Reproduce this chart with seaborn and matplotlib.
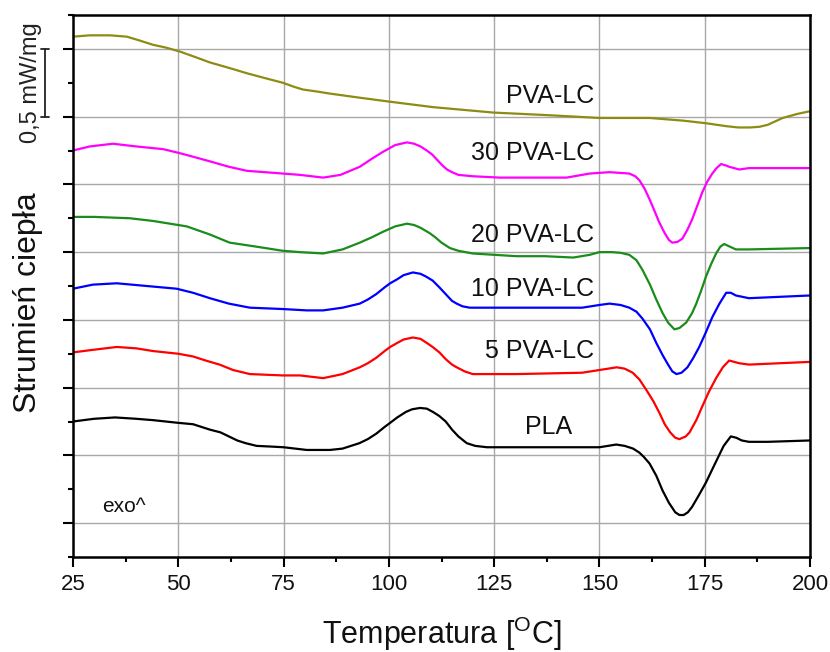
import numpy as np
import pandas as pd
import matplotlib
matplotlib.use("Agg")
import matplotlib.pyplot as plt
import matplotlib.transforms as mtransforms
from matplotlib.ticker import MultipleLocator
import seaborn as sns

# ---------------- data ----------------
pla_T = [25, 30, 35, 40, 44, 50, 53.5, 55.5, 57.5, 60, 62, 64, 66, 68.6, 72, 75, 80.5, 86, 89, 91, 93,
         95, 97, 99, 100.3, 102, 104, 105.5, 107.4, 109, 110.5, 112, 113.5, 115, 116.5, 118.5, 120.5,
         123.3, 134, 150, 152, 154, 156, 158, 159.5, 160.5, 161.9, 163.5, 165, 166.5, 168, 169, 170,
         171, 172, 173.5, 175.3, 177, 178.4, 179.5, 181.2, 182.5, 183.8, 185.5, 190, 200]
pla_v = [1.25, 1.27, 1.28, 1.27, 1.26, 1.24, 1.23, 1.21, 1.19, 1.17, 1.14, 1.11, 1.09, 1.07, 1.065, 1.06, 1.04, 1.04, 1.05, 1.07, 1.09,
         1.12, 1.16, 1.21, 1.24, 1.28, 1.32, 1.34, 1.35, 1.345, 1.32, 1.29, 1.25, 1.19, 1.14, 1.09, 1.07,
         1.06, 1.06, 1.06, 1.07, 1.08, 1.07, 1.05, 1.02, 0.99, 0.94, 0.85, 0.74, 0.65, 0.58, 0.56, 0.56,
         0.58, 0.62, 0.70, 0.80, 0.91, 1.00, 1.07, 1.14, 1.13, 1.11, 1.10, 1.10, 1.11]

p5_T = [25, 30, 35.4, 40, 44, 50, 53.5, 56.5, 59.8, 63, 67, 74.8, 78.9, 84.4, 89, 93.1, 95, 97, 99,
        100.3, 102, 103.5, 105.7, 107.5, 109, 110.4, 112, 113.5, 115, 116.1, 118, 119.9, 130.3, 145.9,
        150, 154.1, 156, 157.9, 159.5, 161.2, 162.8, 164.3, 165.5, 166.8, 168, 169, 170.5, 171.4,
        173, 174.4, 176, 177.7, 179.3, 180.8, 182, 183.2, 185.5, 200]
p5_v = [1.76, 1.78, 1.80, 1.79, 1.77, 1.75, 1.73, 1.70, 1.67, 1.63, 1.60, 1.59, 1.59, 1.57, 1.60, 1.65, 1.68, 1.72, 1.77,
        1.80, 1.83, 1.855, 1.87, 1.86, 1.83, 1.80, 1.76, 1.71, 1.67, 1.65, 1.62, 1.60, 1.60, 1.61,
        1.63, 1.65, 1.64, 1.61, 1.56, 1.48, 1.40, 1.31, 1.23, 1.17, 1.13, 1.12, 1.14, 1.17,
        1.26, 1.36, 1.47, 1.57, 1.65, 1.70, 1.69, 1.68, 1.67, 1.69]

p10_T = [25, 29.7, 35.4, 42.5, 49.6, 53.5, 57.5, 62, 67, 74.8, 80.5, 84.4, 89, 93.1, 95, 97, 99, 100.3,
         102, 103.5, 105.7, 107.5, 108.8, 110.4, 112, 113.5, 115, 116.1, 117.5, 119.2, 130.3, 145.9,
         150, 152.4, 155, 157.1, 158.8, 160.2, 162, 163.5, 165, 166.3, 167.3, 168.3, 169.5, 170.9,
         172.3, 173.7, 175.3, 176.8, 178.5, 180.1, 181.2, 182.4, 185.5, 200]
p10_v = [2.23, 2.26, 2.27, 2.25, 2.23, 2.20, 2.16, 2.12, 2.09, 2.08, 2.07, 2.07, 2.09, 2.12, 2.15, 2.19, 2.24, 2.27,
         2.30, 2.33, 2.35, 2.34, 2.32, 2.29, 2.24, 2.19, 2.14, 2.12, 2.10, 2.09, 2.09, 2.09,
         2.11, 2.12, 2.11, 2.09, 2.06, 2.01, 1.93, 1.83, 1.74, 1.67, 1.62, 1.60, 1.61, 1.65,
         1.72, 1.80, 1.91, 2.02, 2.12, 2.20, 2.20, 2.18, 2.16, 2.18]

p20_T = [25, 30, 38.5, 44, 52, 57.5, 62.2, 68.6, 74.8, 78.9, 84.4, 89, 93.1, 96, 98.6, 101.5, 104.3,
         106, 107.5, 109.7, 111, 112.5, 114.5, 116.5, 119.9, 130.3, 137, 143.8, 147.7, 150, 153, 155,
         157.1, 158.8, 160.2, 162, 163.5, 165, 166.3, 167.8, 169, 170.6, 172, 173, 174.2, 175.3,
         176.5, 177.7, 178.7, 179.6, 181, 182.4, 185.5, 200]
p20_v = [2.76, 2.76, 2.75, 2.73, 2.69, 2.63, 2.57, 2.54, 2.51, 2.50, 2.49, 2.52, 2.57, 2.61, 2.65, 2.69, 2.71,
         2.70, 2.68, 2.64, 2.61, 2.57, 2.53, 2.51, 2.49, 2.47, 2.47, 2.46, 2.48, 2.50, 2.50, 2.495,
         2.48, 2.44, 2.37, 2.26, 2.15, 2.05, 1.98, 1.93, 1.94, 1.98, 2.05, 2.12, 2.22, 2.32,
         2.41, 2.49, 2.54, 2.56, 2.54, 2.52, 2.52, 2.53]

p30_T = [25, 29, 34.5, 40, 46.4, 50.4, 54, 57.5, 62, 66.3, 74.8, 78.9, 84.4, 88.5, 93.1, 96, 98.6,
         101.5, 104.3, 106, 107.5, 109, 110.3, 111.5, 112.7, 113.8, 115, 116.5, 119.9, 126.3, 134.2,
         142.2, 147.7, 152.4, 157.1, 158.5, 159.5, 160.7, 161.9, 163, 164.2, 165.5, 166.5, 167.3,
         168.5, 169.7, 170.8, 172, 173.2, 174.4, 175.6, 176.8, 177.8, 178.9, 180, 180.8, 183.2,
         185.5, 200]
p30_v = [3.25, 3.28, 3.30, 3.28, 3.26, 3.23, 3.20, 3.17, 3.13, 3.10, 3.08, 3.07, 3.05, 3.07, 3.13, 3.19, 3.24,
         3.29, 3.31, 3.30, 3.28, 3.25, 3.22, 3.18, 3.14, 3.11, 3.09, 3.07, 3.06, 3.05, 3.05,
         3.05, 3.08, 3.09, 3.08, 3.06, 3.03, 2.97, 2.89, 2.81, 2.72, 2.64, 2.59, 2.57,
         2.575, 2.60, 2.66, 2.74, 2.84, 2.94, 3.02, 3.08, 3.12, 3.15, 3.14, 3.13, 3.11,
         3.12, 3.12]

pva_T = [25, 29, 33.8, 37.8, 41, 44, 47, 50.4, 54, 57.5, 62, 66.3, 70.5, 74.8, 77.5, 79.6, 83, 86, 93,
         100.3, 110.5, 124.8, 138.3, 150, 162, 170, 175.6, 180, 183, 185.8, 188, 190, 193.5, 197, 200]
pva_v = [4.09, 4.10, 4.10, 4.09, 4.06, 4.03, 4.01, 3.98, 3.94, 3.90, 3.86, 3.82, 3.785, 3.75, 3.72, 3.70, 3.685, 3.67, 3.64,
         3.61, 3.57, 3.53, 3.51, 3.49, 3.49, 3.47, 3.45, 3.43, 3.42, 3.42, 3.425, 3.44, 3.49, 3.52, 3.54]

series_names = ["PLA", "5 PVA-LC", "10 PVA-LC", "20 PVA-LC", "30 PVA-LC", "PVA-LC"]
series_T = [pla_T, p5_T, p10_T, p20_T, p30_T, pva_T]
series_v = [pla_v, p5_v, p10_v, p20_v, p30_v, pva_v]
series_colors = ["#000000", "#ff0000", "#0000ff", "#1a8c1a", "#ff00ff", "#8c8c14"]

# label positions (temperature of right edge, heat-flow level)
label_T = [143.6, 148.8, 148.8, 148.8, 148.8, 148.8]
label_v = [1.21, 1.77, 2.23, 2.63, 3.23, 3.65]

xticks = [25, 50, 75, 100, 125, 150, 175, 200]

# ---------------- plotting ----------------
sns.set_theme(style="white")
plt.rcParams["font.family"] = ["Liberation Sans", "DejaVu Sans"]
plt.rcParams["mathtext.fontset"] = "custom"
plt.rcParams["mathtext.rm"] = "Liberation Sans"
plt.rcParams["text.color"] = "#111111"
plt.rcParams["axes.labelcolor"] = "#111111"
plt.rcParams["xtick.color"] = "black"
plt.rcParams["ytick.color"] = "black"

frames = []
for name, T, v in zip(series_names, series_T, series_v):
    frames.append(pd.DataFrame({"T": T, "v": v, "sample": name}))
df = pd.concat(frames, ignore_index=True)

fig = plt.figure(figsize=(8.3, 6.52), dpi=100)
ax = fig.add_axes([73 / 830, 95 / 652, 737 / 830, 542 / 652])

sns.lineplot(data=df, x="T", y="v", hue="sample", palette=dict(zip(series_names, series_colors)),
             estimator=None, sort=False, linewidth=1.6, legend=False, ax=ax)
for ln in ax.get_lines():
    ln.set_solid_joinstyle("round")

ax.set_xlim(25, 200)
ax.set_ylim(0.25, 4.25)
ax.xaxis.set_major_locator(MultipleLocator(25))
ax.xaxis.set_minor_locator(MultipleLocator(12.5))
ax.yaxis.set_major_locator(MultipleLocator(0.5))
ax.yaxis.set_minor_locator(MultipleLocator(0.25))
ax.set_xticks(xticks)
ax.set_xticklabels([str(t) for t in xticks])
ax.set_yticklabels([])
ax.grid(True, which="major", color="#a8a8a8", linewidth=1.0)
ax.set_axisbelow(True)
for s in ax.spines.values():
    s.set_visible(True)
    s.set_color("black")
    s.set_linewidth(1.8)
ax.tick_params(axis="both", which="major", direction="out", length=7.5, width=1.5,
               color="black", labelcolor="#111111", labelsize=16, pad=5, left=True, bottom=True)
ax.tick_params(axis="both", which="minor", direction="out", length=3.8, width=1.5,
               color="black", left=True, bottom=True)

ax.set_xlabel(r"Temperatura [$^{\mathregular{O}}$C]", fontsize=22, labelpad=14)
ax.set_ylabel("")
fig.text(28 / 830, 1 - 303 / 652, "Strumień ciepła", rotation=90, fontsize=23,
         ha="center", va="center")

for name, tx, ty in zip(series_names, label_T, label_v):
    ax.text(tx, ty, name, fontsize=18, ha="right", va="center")

ax.text(31.9, 0.58, "exo^", fontsize=15, ha="left", va="baseline")

# scale bar 0,5 mW/mg
trans = mtransforms.blended_transform_factory(ax.transAxes, ax.transData)
bx = (45 - 73) / 737
cw = 4 / 737
ax.plot([bx, bx], [3.5, 4.0], color="#222222", lw=1.3, transform=trans, clip_on=False)
ax.plot([bx - cw, bx + cw], [4.0, 4.0], color="#222222", lw=1.3, transform=trans, clip_on=False)
ax.plot([bx - cw, bx + cw], [3.5, 3.5], color="#222222", lw=1.3, transform=trans, clip_on=False)
ax.text((31 - 73) / 737, 3.75, "0,5 mW/mg", rotation=90, fontsize=17, ha="center", va="center",
        transform=trans, color="#222222")

fig.savefig("out.png", dpi=100)
